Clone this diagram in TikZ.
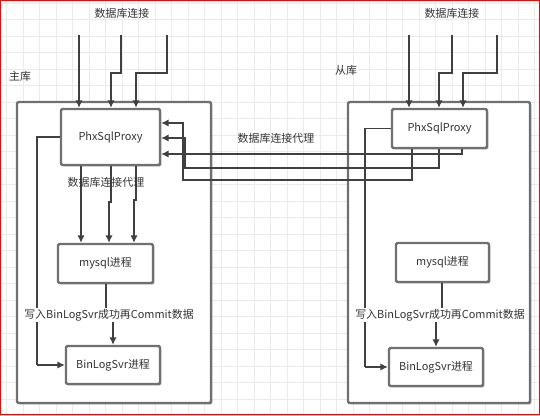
\documentclass[tikz,border=0pt]{standalone}
\usepackage{fontspec}
\setmainfont{Noto Sans CJK SC}
\usetikzlibrary{arrows.meta,fit,shadows}
\definecolor{gridc}{HTML}{EBEBEB}
\definecolor{boxc}{HTML}{707070}
\definecolor{linec}{HTML}{404040}
\definecolor{txtc}{HTML}{333333}
\begin{document}
\begin{tikzpicture}[x=0.75pt,y=-0.75pt,
  box/.style={draw=boxc, line width=1.8pt, fill=white, rounded corners=1pt, inner sep=0pt,
    drop shadow={shadow xshift=1pt, shadow yshift=-1pt, opacity=0.35, fill=black}},
  outerbox/.style={box},
  arr/.style={draw=linec, line width=1.3pt, -{Latex[length=5.5pt,width=5.5pt]}},
  ln/.style={draw=linec, line width=1.3pt},
  txt/.style={text=txtc, font=\fontsize{8.2pt}{9pt}\selectfont, inner sep=1pt},
  lab/.style={txt, fill=white}]
\useasboundingbox (0,0) rectangle (540,415);
\fill[white] (0,0) rectangle (540,415);
% grid
\foreach \i in {0,...,32} { \draw[gridc, line width=0.8pt] ({6.7+16.5*\i},0) -- ({6.7+16.5*\i},415); }
\foreach \j in {0,...,25} { \draw[gridc, line width=0.8pt] (0,{3.3+16.5*\j}) -- (540,{3.3+16.5*\j}); }
\draw[red, line width=0.9pt] (0.5,0.5) rectangle (539.5,414.5);
% outer boxes
\node[outerbox, fit={(17,102)(211,403)}] (mouter) {};
\node[outerbox, fit={(348,102)(530,403)}] (souter) {};
% labels
\node[txt] (mconn) at (122,13) {数据库连接};
\node[txt] (sconn) at (452,13) {数据库连接};
\node[txt] (mlab) at (20,76) {主库};
\node[txt] (slab) at (346,70) {从库};
% connector free ends
\coordinate (mt1) at (79,35);
\coordinate (mt2) at (121,35);
\coordinate (mt3) at (167,35);
\coordinate (st1) at (409,35);
\coordinate (st2) at (452,35);
\coordinate (st3) at (497,35);
% inner boxes
\node[box, fit={(61,109)(160,165)}] (mproxy) {};
\node[txt] at (mproxy.center) {PhxSqlProxy};
\node[box, fit={(58,244)(153,283)}] (mmysql) {};
\node[txt] at (mmysql.center) {mysql进程};
\node[box, fit={(66,346)(160,384)}] (mbin) {};
\node[txt] at (mbin.center) {BinLogSvr进程};
\node[box, fit={(392,109)(487,148)}] (sproxy) {};
\node[txt] at (sproxy.center) {PhxSqlProxy};
\node[box, fit={(396,243)(489,282)}] (smysql) {};
\node[txt] at (smysql.center) {mysql进程};
\node[box, fit={(389,348)(483,386)}] (sbin) {};
\node[txt] at (sbin.center) {BinLogSvr进程};
% top connections
\draw[arr] (mt1) -- (mt1 |- mproxy.north);
\draw[arr] (mt2) -- (121,73) -- (111,73) -- (111,73 |- mproxy.north);
\draw[arr] (mt3) -- (167,73) -- (136,73) -- (136,73 |- mproxy.north);
\draw[arr] (st1) -- (st1 |- sproxy.north);
\draw[arr] (st2) -- (452,73) -- (439,73) -- (439,73 |- sproxy.north);
\draw[arr] (st3) -- (497,73) -- (463,73) -- (463,73 |- sproxy.north);
% master proxy -> mysql
\draw[arr] (81,0 |- mproxy.south) -- (81,0 |- mmysql.north);
\draw[arr] (111,0 |- mproxy.south) -- (111,202) -- (109,202) -- (109,0 |- mmysql.north);
\draw[arr] (136,0 |- mproxy.south) -- (136,200) -- (134,200) -- (134,0 |- mmysql.north);
\node[txt] (mproxylab) at (106,182) {数据库连接代理};
% left lines to binlog
\draw[ln] (mproxy.west) -| (37,365);
\draw[arr] (37,365) -- (mbin.west);
\draw[ln] (sproxy.west) -| (365,367);
\draw[arr] (365,367) -- (sbin.west);
% mysql -> binlog
\draw[ln] (106,0 |- mmysql.south) -- (106,315) -- (113,315);
\draw[arr] (113,315) -- (113,0 |- mbin.north);
\node[lab] (mcommit) at (109,315) {写入BinLogSvr成功再Commit数据};
\draw[ln] (442,0 |- smysql.south) -- (442,315) -- (436,315);
\draw[arr] (436,315) -- (436,0 |- sbin.north);
\node[lab] (scommit) at (440,315) {写入BinLogSvr成功再Commit数据};
% cross connections slave proxy -> master proxy
\draw[arr] (462,0 |- sproxy.south) -- (462,154) -- (mproxy.east |- 0,154);
\draw[arr] (439,0 |- sproxy.south) -- (439,168) -- (185,168) -- (185,138) -- (mproxy.east |- 0,138);
\draw[arr] (412,0 |- sproxy.south) -- (412,180) -- (183,180) -- (183,123) -- (mproxy.east |- 0,123);
\node[txt] (crosslab) at (276,138) {数据库连接代理};
\end{tikzpicture}
\end{document}
